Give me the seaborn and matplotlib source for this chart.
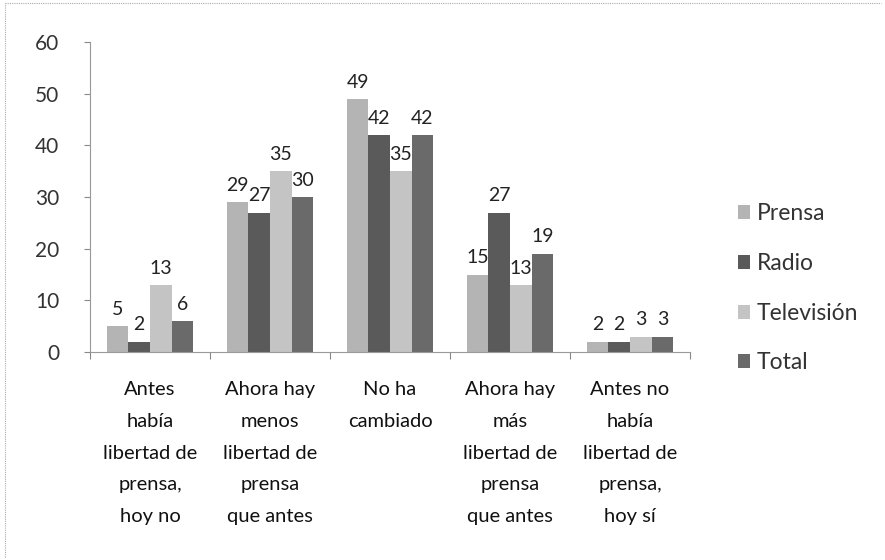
import matplotlib
matplotlib.use("Agg")
import matplotlib.pyplot as plt
import seaborn as sns
import pandas as pd
from matplotlib.lines import Line2D

categories = ["Antes\nhabía\nlibertad de\nprensa,\nhoy no",
              "Ahora hay\nmenos\nlibertad de\nprensa\nque antes",
              "No ha\ncambiado",
              "Ahora hay\nmás\nlibertad de\nprensa\nque antes",
              "Antes no\nhabía\nlibertad de\nprensa,\nhoy sí"]
series = ["Prensa", "Radio", "Televisión", "Total"]
prensa = [5, 29, 49, 15, 2]
radio = [2, 27, 42, 27, 2]
television = [13, 35, 35, 13, 3]
total = [6, 30, 42, 19, 3]
yticks = [0, 10, 20, 30, 40, 50, 60]

colors = ["#b4b4b4", "#5a5a5a", "#c4c4c4", "#6a6a6a"]

rows = []
for s, vals in zip(series, [prensa, radio, television, total]):
    for c, v in zip(categories, vals):
        rows.append({"cat": c, "serie": s, "val": v})
df = pd.DataFrame(rows)

sns.set_theme(style="white")
plt.rcParams['font.family'] = ['Lato', 'DejaVu Sans']

fig = plt.figure(figsize=(8.85, 5.6), dpi=100)
ax = fig.add_axes([90/885, 1-352/560, 600/885, 310/560])

sns.barplot(data=df, x="cat", y="val", hue="serie", palette=colors,
            saturation=1, width=0.72, gap=0, ax=ax, edgecolor="none",
            linewidth=0)

for cont in ax.containers:
    ax.bar_label(cont, labels=[f"{int(v)}" for v in cont.datavalues],
                 padding=6, fontsize=14, color="#222222")

ax.set_ylim(0, 60)
ax.set_xlim(-0.5, len(categories) - 0.5)
ax.set_yticks(yticks)
ax.set_yticklabels([str(t) for t in yticks], fontsize=15, color="#333333")
ax.tick_params(axis="y", length=4, width=0.8, color="#888888", pad=18, left=True)
ax.tick_params(axis="x", which="major", length=0, pad=21, labelsize=14.5, labelcolor="#111111")
ax.set_xticks([i - 0.5 for i in range(len(categories) + 1)], minor=True)
ax.tick_params(axis="x", which="minor", length=5, width=0.8, color="#888888", bottom=True)
for lab in ax.get_xticklabels():
    lab.set_linespacing(2.05)
ax.set_xlabel("")
ax.set_ylabel("")
for side in ["top", "right"]:
    ax.spines[side].set_visible(False)
for side in ["left", "bottom"]:
    ax.spines[side].set_color("#999999")
    ax.spines[side].set_linewidth(0.8)

handles, labels = ax.get_legend_handles_labels()
leg = ax.legend(handles, labels, loc="center left", bbox_to_anchor=(1.045, 0.205),
                frameon=False, fontsize=16.5, handlelength=0.55, handleheight=0.55,
                handletextpad=0.3, labelspacing=1.25)
for t in leg.get_texts():
    t.set_color("#333333")

fig.add_artist(Line2D([0.006, 0.995], [0.995, 0.995], transform=fig.transFigure,
                      color="#aaaaaa", linewidth=0.8, linestyle=(0, (1, 1))))
fig.add_artist(Line2D([0.006, 0.006], [0.005, 0.995], transform=fig.transFigure,
                      color="#aaaaaa", linewidth=0.8, linestyle=(0, (1, 1))))

fig.savefig("out.png", dpi=100)
